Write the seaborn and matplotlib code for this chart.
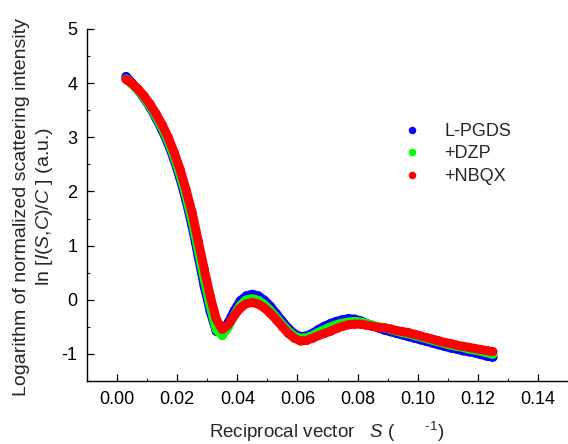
import numpy as np
import pandas as pd
import matplotlib
matplotlib.use("Agg")
import matplotlib.pyplot as plt
import seaborn as sns
from matplotlib.ticker import MultipleLocator

# data (s in 1/A, ln intensity)
s_values = [0.003, 0.005, 0.007, 0.009, 0.011, 0.013, 0.015, 0.017, 0.019, 0.021,
            0.023, 0.025, 0.027, 0.029, 0.031, 0.033, 0.035, 0.037, 0.039, 0.041,
            0.043, 0.045, 0.047, 0.049, 0.051, 0.053, 0.055, 0.057, 0.059, 0.061,
            0.063, 0.065, 0.067, 0.069, 0.071, 0.073, 0.075, 0.077, 0.079, 0.081,
            0.083, 0.085, 0.087, 0.089, 0.091, 0.093, 0.095, 0.097, 0.099, 0.101,
            0.103, 0.105, 0.107, 0.109, 0.111, 0.113, 0.115, 0.117, 0.119, 0.121,
            0.123, 0.125]

lpgds = [4.12, 4.00, 3.87, 3.72, 3.55, 3.35, 3.13, 2.88, 2.58, 2.23,
         1.82, 1.35, 0.80, 0.25, -0.22, -0.58, -0.60, -0.42, -0.20, -0.02,
         0.07, 0.10, 0.07, -0.01, -0.12, -0.26, -0.40, -0.53, -0.63, -0.68,
         -0.67, -0.62, -0.55, -0.49, -0.44, -0.40, -0.37, -0.35, -0.36, -0.39,
         -0.44, -0.48, -0.52, -0.56, -0.59, -0.62, -0.65, -0.68, -0.71, -0.74,
         -0.77, -0.80, -0.83, -0.86, -0.89, -0.91, -0.94, -0.96, -0.98, -1.01,
         -1.04, -1.06]

dzp = [4.08, 3.98, 3.87, 3.73, 3.57, 3.38, 3.17, 2.93, 2.64, 2.30,
       1.90, 1.45, 0.92, 0.38, -0.12, -0.55, -0.66, -0.50, -0.28, -0.10,
       0.00, 0.02, -0.01, -0.09, -0.20, -0.33, -0.46, -0.58, -0.67, -0.71,
       -0.70, -0.66, -0.60, -0.55, -0.50, -0.46, -0.43, -0.41, -0.40, -0.41,
       -0.44, -0.47, -0.50, -0.52, -0.55, -0.58, -0.61, -0.63, -0.66, -0.69,
       -0.72, -0.75, -0.78, -0.81, -0.84, -0.86, -0.88, -0.91, -0.93, -0.95,
       -0.98, -1.01]

nbqx = [4.07, 3.99, 3.89, 3.76, 3.61, 3.43, 3.23, 3.00, 2.72, 2.40,
        2.02, 1.60, 1.08, 0.56, 0.06, -0.36, -0.55, -0.46, -0.29, -0.15,
        -0.07, -0.05, -0.08, -0.15, -0.25, -0.37, -0.50, -0.62, -0.71, -0.76,
        -0.75, -0.71, -0.66, -0.62, -0.58, -0.53, -0.49, -0.46, -0.45, -0.45,
        -0.47, -0.49, -0.51, -0.52, -0.54, -0.57, -0.59, -0.61, -0.64, -0.67,
        -0.70, -0.73, -0.76, -0.79, -0.81, -0.84, -0.86, -0.88, -0.90, -0.92,
        -0.94, -0.96]

sample_names = ["L-PGDS", "+DZP", "+NBQX"]
sample_colors = ["#0000ff", "#00ff00", "#ff0000"]

df = pd.DataFrame({
    "s": s_values * 3,
    "lnI": lpgds + dzp + nbqx,
    "sample": [n for n in sample_names for _ in s_values],
})

# style
sns.set_style("ticks")
plt.rcParams["font.family"] = ["Liberation Sans", "DejaVu Sans"]
plt.rcParams["mathtext.fontset"] = "custom"
plt.rcParams["mathtext.rm"] = "Liberation Sans"
plt.rcParams["mathtext.it"] = "Liberation Sans:italic"
plt.rcParams["axes.unicode_minus"] = False

fig = plt.figure(figsize=(5.68, 4.44), dpi=100)
ax = fig.add_axes([0.1532, 0.1419, 0.8468, 0.7928])

palette = dict(zip(sample_names, sample_colors))

sns.lineplot(data=df, x="s", y="lnI", hue="sample", palette=palette,
             hue_order=sample_names, linewidth=6.5, legend=False,
             sort=False, ax=ax)
sns.scatterplot(data=df, x="s", y="lnI", hue="sample", palette=palette,
                hue_order=sample_names, s=45, linewidth=0, ax=ax)

ax.set_xlim(-0.01, 0.15)
ax.set_ylim(-1.5, 5)
ax.xaxis.set_minor_locator(MultipleLocator(0.01))
ax.yaxis.set_major_locator(MultipleLocator(1))
ax.yaxis.set_minor_locator(MultipleLocator(0.5))
xt = np.arange(0, 0.141, 0.02)
ax.set_xticks(xt)
ax.set_xticklabels(["%.2f" % t for t in xt])

ax.tick_params(which="major", direction="in", length=5, width=0.9,
               labelsize=13, pad=7, colors="black")
ax.tick_params(which="minor", direction="in", length=2.5, width=0.8)

sns.despine(ax=ax)
for side in ["left", "bottom"]:
    ax.spines[side].set_linewidth(1.0)
    ax.spines[side].set_color("black")

ax.set_xlabel("")
ax.set_ylabel("")

fig.text(34 / 568, 1 - 207 / 444,
         "Logarithm of normalized scattering intensity\n"
         r"ln [$I$($S$,$C$)/$C$ ] (a.u.)",
         rotation=90, ha="center", va="center", multialignment="center",
         fontsize=14, linespacing=1.3)

fig.text(327 / 568, 1 - 438 / 444,
         r"Reciprocal vector   $S$ (      $^{\text{-}1}$)",
         ha="center", va="baseline", fontsize=13.5)

leg = ax.legend(loc="upper left", bbox_to_anchor=(394 / 568, 1 - 114 / 444),
                bbox_transform=fig.transFigure, frameon=False, fontsize=13,
                borderpad=0, handlelength=1, handletextpad=1.3,
                labelspacing=0.3, markerscale=0.8)

plt.savefig("out.png", dpi=100)
